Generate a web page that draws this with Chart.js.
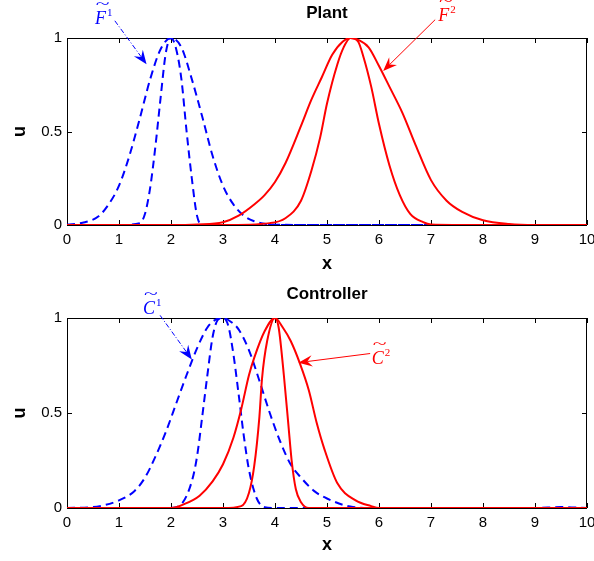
<!DOCTYPE html>
<html>
<head>
<meta charset="utf-8">
<script src="https://cdn.jsdelivr.net/npm/chart.js@4"></script>
<style>
  html, body { margin: 0; padding: 0; background: #fff; overflow: hidden; }
  .panel { position: relative; width: 594px; }
  #plant-box { height: 280px; }
  #ctrl-box { height: 281px; }
</style>
</head>
<body>
<div class="panel" id="plant-box"><canvas id="plant"></canvas></div>
<div class="panel" id="ctrl-box"><canvas id="ctrl"></canvas></div>
<script>
// tick values (both panels)
const xTickValues = [0, 1, 2, 3, 4, 5, 6, 7, 8, 9, 10];
const yTickValues = [0, 0.5, 1];
const yTickLabels = ["0", "0.5", "1"];

// Plant: F1 (blue dashed), F2 (red solid)
const f1WideX = [0, 0.3, 0.6, 0.8, 1.0, 1.2, 1.4, 1.6, 1.8, 2.0, 2.2, 2.4, 2.6, 2.8, 3.0, 3.2, 3.4, 3.6, 3.8, 4.0, 5, 6, 7, 8, 9, 10];
const f1WideY = [0.002, 0.012, 0.045, 0.11, 0.21, 0.37, 0.57, 0.78, 0.94, 1, 0.95, 0.78, 0.58, 0.37, 0.21, 0.11, 0.05, 0.02, 0.007, 0.002, 0, 0, 0, 0, 0, 0];
const f1NarrowX = [0, 1.0, 1.4, 1.5, 1.6, 1.7, 1.8, 1.9, 2.0, 2.1, 2.2, 2.3, 2.4, 2.5, 2.6, 3, 4, 5, 6, 7, 8, 9, 10];
const f1NarrowY = [0, 0, 0.01, 0.06, 0.2, 0.42, 0.68, 0.92, 1, 0.94, 0.78, 0.5, 0.25, 0.05, 0, 0, 0, 0, 0, 0, 0, 0, 0];
const f2WideX = [0, 1, 2, 2.5, 3.0, 3.3, 3.6, 3.8, 4.0, 4.2, 4.5, 4.7, 4.9, 5.1, 5.3, 5.45, 5.6, 5.8, 6.0, 6.2, 6.45, 6.7, 7.0, 7.3, 7.6, 8.0, 8.5, 9, 10];
const f2WideY = [0, 0, 0, 0.003, 0.015, 0.05, 0.11, 0.16, 0.23, 0.33, 0.53, 0.67, 0.79, 0.91, 0.98, 1, 0.99, 0.95, 0.85, 0.74, 0.6, 0.43, 0.24, 0.13, 0.07, 0.025, 0.005, 0, 0];
const f2NarrowX = [0, 1, 2, 3, 3.9, 4.2, 4.5, 4.7, 4.87, 5.0, 5.2, 5.32, 5.45, 5.6, 5.7, 5.85, 6.0, 6.2, 6.4, 6.6, 6.85, 7.0, 8, 9, 10];
const f2NarrowY = [0, 0, 0, 0, 0.01, 0.036, 0.13, 0.29, 0.47, 0.65, 0.86, 0.95, 1, 0.98, 0.9, 0.74, 0.54, 0.32, 0.16, 0.06, 0.015, 0.003, 0, 0, 0];

// Controller: C1 (blue dashed), C2 (red solid)
const c1WideX = [0, 0.5, 1.0, 1.3, 1.5, 1.7, 1.9, 2.1, 2.3, 2.5, 2.7, 2.85, 3.0, 3.15, 3.3, 3.5, 3.7, 3.9, 4.1, 4.3, 4.5, 4.75, 5.0, 5.5, 6, 7, 8, 9, 9.5, 10];
const c1WideY = [0, 0.005, 0.04, 0.09, 0.16, 0.27, 0.4, 0.55, 0.7, 0.84, 0.95, 0.99, 1, 0.98, 0.94, 0.83, 0.67, 0.5, 0.35, 0.23, 0.16, 0.09, 0.05, 0.005, 0, 0, 0, 0, 0.005, 0];
const c1NarrowX = [0, 1, 2.0, 2.2, 2.4, 2.5, 2.6, 2.7, 2.8, 2.9, 3.0, 3.1, 3.2, 3.3, 3.4, 3.5, 3.65, 3.8, 4, 5, 6, 7, 8, 9, 10];
const c1NarrowY = [0, 0, 0, 0.02, 0.14, 0.27, 0.48, 0.7, 0.9, 0.99, 1, 0.96, 0.81, 0.6, 0.38, 0.2, 0.05, 0.004, 0, 0, 0, 0, 0, 0, 0];
const c2WideX = [0, 1, 2.0, 2.25, 2.55, 2.8, 3.0, 3.2, 3.35, 3.5, 3.6, 3.8, 4.0, 4.15, 4.3, 4.48, 4.65, 4.8, 4.95, 5.2, 5.55, 5.85, 6, 7, 8, 9, 10];
const c2WideY = [0, 0, 0, 0.02, 0.065, 0.14, 0.23, 0.37, 0.52, 0.7, 0.79, 0.93, 1, 0.95, 0.88, 0.76, 0.62, 0.45, 0.31, 0.13, 0.04, 0.01, 0, 0, 0, 0, 0];
const c2NarrowX = [0, 1, 2, 3, 3.35, 3.5, 3.6, 3.7, 3.75, 3.85, 4.0, 4.07, 4.17, 4.26, 4.32, 4.4, 4.5, 4.65, 5, 6, 7, 8, 9, 10];
const c2NarrowY = [0, 0, 0, 0, 0.01, 0.08, 0.22, 0.48, 0.68, 0.88, 1, 0.95, 0.7, 0.43, 0.25, 0.1, 0.03, 0, 0, 0, 0, 0, 0, 0];

const BLUE = "#0000ff";
const RED = "#ff0000";
const AXIS_FONT = "'Liberation Sans', Arial, sans-serif";
const MATH_FONT = "'Liberation Serif', 'Times New Roman', serif";

const pts = (xs, ys) => xs.map((x, i) => ({ x: x, y: ys[i] }));

function series(xs, ys, color, dashed) {
  return {
    data: pts(xs, ys),
    borderColor: color,
    borderWidth: 2,
    borderDash: dashed ? [8, 5] : [],
    pointRadius: 0,
    fill: false,
    cubicInterpolationMode: "monotone"
  };
}

// box + inward ticks, MATLAB style
const frame = {
  id: "frame",
  beforeDatasetsDraw(chart) {
    const { ctx, chartArea: a, scales } = chart;
    ctx.save();
    ctx.strokeStyle = "#000";
    ctx.lineWidth = 1;
    ctx.strokeRect(a.left + 0.5, a.top + 0.5, a.right - a.left - 1, a.bottom - a.top);
    ctx.beginPath();
    scales.x.ticks.forEach(t => {
      const px = Math.round(scales.x.getPixelForValue(t.value)) + 0.5;
      ctx.moveTo(px, a.bottom); ctx.lineTo(px, a.bottom - 5);
      ctx.moveTo(px, a.top); ctx.lineTo(px, a.top + 5);
    });
    scales.y.ticks.forEach(t => {
      const py = Math.round(scales.y.getPixelForValue(t.value)) + 0.5;
      ctx.moveTo(a.left, py); ctx.lineTo(a.left + 5, py);
      ctx.moveTo(a.right, py); ctx.lineTo(a.right - 5, py);
    });
    ctx.stroke();
    ctx.restore();
  }
};

function drawArrow(ctx, x1, y1, x2, y2, color, dash) {
  const ang = Math.atan2(y2 - y1, x2 - x1);
  const hl = 15;
  ctx.strokeStyle = color;
  ctx.fillStyle = color;
  ctx.lineWidth = 1;
  ctx.setLineDash(dash);
  ctx.beginPath();
  ctx.moveTo(x1, y1);
  ctx.lineTo(x2 - hl * 0.6 * Math.cos(ang), y2 - hl * 0.6 * Math.sin(ang));
  ctx.stroke();
  ctx.setLineDash([]);
  ctx.beginPath();
  ctx.moveTo(x2, y2);
  ctx.lineTo(x2 - hl * Math.cos(ang - 0.38), y2 - hl * Math.sin(ang - 0.38));
  ctx.lineTo(x2 - hl * 0.6 * Math.cos(ang), y2 - hl * 0.6 * Math.sin(ang));
  ctx.lineTo(x2 - hl * Math.cos(ang + 0.38), y2 - hl * Math.sin(ang + 0.38));
  ctx.closePath();
  ctx.fill();
}

function drawSymbol(ctx, x, y, letter, sup, color) {
  ctx.fillStyle = color;
  ctx.textBaseline = "alphabetic";
  ctx.textAlign = "left";
  ctx.font = "italic 18px " + MATH_FONT;
  ctx.fillText(letter, x, y);
  const w = ctx.measureText(letter).width;
  // wide tilde over the letter
  ctx.save();
  ctx.translate(x + w / 2 + 2, y - 19);
  ctx.scale(1.7, 1);
  ctx.font = "15px " + MATH_FONT;
  ctx.textAlign = "center";
  ctx.textBaseline = "middle";
  ctx.fillText("~", 0, 0);
  ctx.restore();
  ctx.font = "11px " + MATH_FONT;
  ctx.fillText(sup, x + w + 1, y - 8);
}

const notes = {
  id: "notes",
  afterDatasetsDraw(chart, args, opts) {
    const { ctx, scales: { x, y } } = chart;
    ctx.save();
    (opts.items || []).forEach(n => {
      drawArrow(ctx, x.getPixelForValue(n.from[0]), y.getPixelForValue(n.from[1]),
        x.getPixelForValue(n.to[0]), y.getPixelForValue(n.to[1]), n.color, n.dash);
      drawSymbol(ctx, x.getPixelForValue(n.at[0]), y.getPixelForValue(n.at[1]), n.letter, n.sup, n.color);
    });
    ctx.restore();
  }
};

function makeChart(id, title, datasets, items, top, bottom) {
  return new Chart(document.getElementById(id), {
    type: "line",
    data: { datasets: datasets },
    plugins: [frame, notes],
    options: {
      responsive: true,
      maintainAspectRatio: false,
      animation: false,
      layout: { padding: { left: 0, right: 7, top: 0, bottom: 0 } },
      plugins: {
        legend: { display: false },
        tooltip: { enabled: false },
        title: {
          display: true,
          text: title,
          fullSize: false,
          color: "#000",
          font: { family: AXIS_FONT, size: 17, weight: "bold" },
          padding: { top: top, bottom: 38 - top - 20.4 }
        },
        notes: { items: items }
      },
      scales: {
        x: {
          type: "linear",
          min: 0,
          max: 10,
          afterBuildTicks: s => { s.ticks = xTickValues.map(v => ({ value: v })); },
          afterFit: s => { s.height = bottom; s.paddingLeft = 0; s.paddingRight = 0; },
          grid: { display: false, drawTicks: false },
          border: { display: false },
          ticks: { color: "#000", padding: 6, maxRotation: 0, font: { family: AXIS_FONT, size: 15 } },
          title: { display: true, text: "x", color: "#000", padding: { top: 0, bottom: 5 },
            font: { family: AXIS_FONT, size: 18, weight: "bold" } }
        },
        y: {
          type: "linear",
          min: 0,
          max: 1,
          afterBuildTicks: s => { s.ticks = yTickValues.map(v => ({ value: v })); },
          afterFit: s => { s.width = 67; s.paddingTop = 0; s.paddingBottom = 0; },
          grid: { display: false, drawTicks: false },
          border: { display: false },
          ticks: {
            color: "#000", padding: 5, font: { family: AXIS_FONT, size: 15 },
            callback: v => yTickLabels[yTickValues.indexOf(v)]
          },
          title: { display: true, text: "u", color: "#000", padding: { top: 9, bottom: 0 },
            font: { family: AXIS_FONT, size: 18, weight: "bold" } }
        }
      }
    }
  });
}

makeChart("plant", "Plant", [
  series(f2WideX, f2WideY, RED, false),
  series(f2NarrowX, f2NarrowY, RED, false),
  series(f1WideX, f1WideY, BLUE, true),
  series(f1NarrowX, f1NarrowY, BLUE, true)
], [
  { letter: "F", sup: "1", color: BLUE, at: [0.54, 1.075], from: [0.92, 1.092], to: [1.53, 0.86], dash: [5, 2, 1, 2] },
  { letter: "F", sup: "2", color: RED, at: [7.14, 1.093], from: [7.08, 1.098], to: [6.08, 0.824], dash: [] }
], 3, 55);

makeChart("ctrl", "Controller", [
  series(c2WideX, c2WideY, RED, false),
  series(c2NarrowX, c2NarrowY, RED, false),
  series(c1WideX, c1WideY, BLUE, true),
  series(c1NarrowX, c1NarrowY, BLUE, true)
], [
  { letter: "C", sup: "1", color: BLUE, at: [1.46, 1.021], from: [1.79, 1.014], to: [2.40, 0.782], dash: [5, 2, 1, 2] },
  { letter: "C", sup: "2", color: RED, at: [5.86, 0.759], from: [5.83, 0.813], to: [4.45, 0.765], dash: [] }
], 4, 53);
</script>
</body>
</html>
